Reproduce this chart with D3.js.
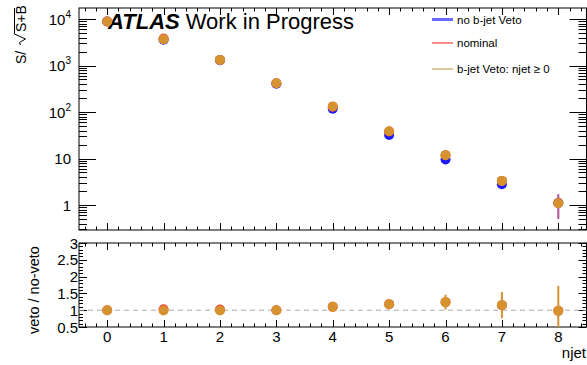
<!DOCTYPE html>
<html>
<head>
<meta charset="utf-8">
<script src="https://cdn.jsdelivr.net/npm/d3@7"></script>
<style>
  html, body { margin: 0; padding: 0; background: #fff; }
  svg { display: block; font-family: "Liberation Sans", Arial, Helvetica, sans-serif; }
</style>
</head>
<body>
<svg id="chart" width="587" height="365"></svg>
<script>
// njet bins
const njet = [0, 1, 2, 3, 4, 5, 6, 7, 8];

// S/sqrt(S+B) per njet bin
const noVeto     = [8850, 3600, 1300, 405, 117, 32, 9.5, 2.8, 1.1];
const noVetoErr  = [30, 20, 10, 5, 2, 1, 0.5, 0.3, 0.6];
const nominal    = [8850, 3800, 1320, 415, 130, 38, 11.8, 3.3, 1.1];
const nominalErr = [30, 20, 10, 5, 2, 1, 0.6, 0.4, 0.6];
const bjetVeto    = [8850, 3650, 1320, 415, 132, 38.4, 11.8, 3.3, 1.09];
const bjetVetoErr = [30, 20, 10, 5, 2, 1, 0.6, 0.6, 0.2];

// ratios to the no-veto selection
const ratioNominal  = [1.0, 1.03, 1.02, 1.0, 1.1, 1.18, 1.24, 1.15, 0.98];
const ratioVeto     = [1.0, 0.99, 0.99, 1.0, 1.1, 1.18, 1.24, 1.15, 0.98];
const ratioVetoErr  = [0, 0, 0, 0, 0.02, 0.04, 0.22, 0.39, 0.74];

const xTickLabels = ["0", "1", "2", "3", "4", "5", "6", "7", "8"];
const topTickExp  = [0, 1, 2, 3, 4];
const ratioTicks  = [0.5, 1, 1.5, 2, 2.5, 3];
const ratioTickLabels = ["0.5", "1", "1.5", "2", "2.5", "3"];

const legendNames = ["no b-jet Veto", "nominal", "b-jet Veto: njet \u2265 0"];

const colBlue = "#1a1aff", colRed = "#e8443a", colOrange = "#d6922f";

const svg = d3.select("#chart");
const L = 79, R = 586.5;
const topPad = { t: 8, b: 230 };
const lowPad = { t: 243, b: 327 };

const x = d3.scaleLinear().domain([-0.5, 8.5]).range([L, R]);
const yTop = d3.scaleLog()
  .domain([Math.pow(10, (205 - 230) / 46.5), Math.pow(10, (205 - 8) / 46.5)])
  .range([topPad.b, topPad.t]);
const yLow = d3.scaleLinear().domain([0.5, 3]).range([lowPad.b, lowPad.t]);

const tick = (g, x1, y1, x2, y2) =>
  g.append("line").attr("x1", x1).attr("y1", y1).attr("x2", x2).attr("y2", y2)
   .attr("stroke", "#000").attr("stroke-width", 1);

// ---------- frames ----------
function frame(p) {
  svg.append("rect").attr("x", L).attr("y", p.t).attr("width", R - L).attr("height", p.b - p.t)
    .attr("fill", "none").attr("stroke", "#000").attr("stroke-width", 1);
}
frame(topPad);
frame(lowPad);

// ---------- x ticks (both pads, top and bottom edges) ----------
const axG = svg.append("g");
const xMinor = d3.range(-4, 85).map(i => i / 10).filter(v => Math.abs(v * 5 - Math.round(v * 5)) < 1e-6 && v > -0.5 && v < 8.5);
[topPad, lowPad].forEach(p => {
  xMinor.forEach(v => {
    const isMajor = Math.abs(v - Math.round(v)) < 1e-6;
    const len = isMajor ? 7 : 3.5;
    const px = Math.round(x(v)) + 0.5;
    tick(axG, px, p.b, px, p.b - len);
    tick(axG, px, p.t, px, p.t + len);
  });
});

// ---------- log y ticks, top pad ----------
const [yLo, yHi] = yTop.domain();
for (let e = -1; e <= 4; e++) {
  for (let k = 1; k <= 9; k++) {
    const v = k * Math.pow(10, e);
    if (v < yLo || v > yHi) continue;
    const len = k === 1 ? 17 : 8;
    const py = Math.round(yTop(v)) + 0.5;
    tick(axG, L, py, L + len, py);
    tick(axG, R, py, R - len, py);
  }
}

// ---------- linear y ticks, ratio pad ----------
d3.range(5, 31).map(i => i / 10).forEach(v => {
  const isMajor = Math.abs(v * 2 - Math.round(v * 2)) < 1e-6;
  const len = isMajor ? 8 : 4;
  const py = Math.round(yLow(v)) + 0.5;
  tick(axG, L, py, L + len, py);
  tick(axG, R, py, R - len, py);
});

// ---------- tick labels ----------
const lab = svg.append("g").attr("fill", "#000");
topTickExp.forEach(e => {
  const py = yTop(Math.pow(10, e));
  if (e === 0) {
    lab.append("text").attr("x", 71).attr("y", py + 5.5).attr("text-anchor", "end")
      .attr("font-size", 15).text("1");
  } else if (e === 1) {
    lab.append("text").attr("x", 71).attr("y", py + 5.5).attr("text-anchor", "end")
      .attr("font-size", 15).text("10");
  } else {
    const t = lab.append("text").attr("x", 71).attr("y", py + 5.5).attr("text-anchor", "end")
      .attr("font-size", 15);
    t.append("tspan").text("10");
    t.append("tspan").attr("font-size", 10).attr("dy", -7).text(String(e));
  }
});
ratioTicks.forEach((v, i) => {
  lab.append("text").attr("x", 78).attr("y", yLow(v) + 5.5).attr("text-anchor", "end")
    .attr("font-size", 15).text(ratioTickLabels[i]);
});
njet.forEach((v, i) => {
  lab.append("text").attr("x", x(v)).attr("y", 342).attr("text-anchor", "middle")
    .attr("font-size", 15).text(xTickLabels[i]);
});

// ---------- axis titles ----------
svg.append("text").attr("x", 586).attr("y", 358).attr("text-anchor", "end")
  .attr("font-size", 15).text("njet");

svg.append("text").attr("transform", "translate(39,290) rotate(-90)")
  .attr("text-anchor", "middle").attr("font-size", 14.5).text("veto / no-veto");

const yt = svg.append("g").attr("transform", "translate(25.5,64) rotate(-90)");
yt.append("text").attr("x", 0).attr("y", 0).attr("font-size", 14).text("S/");
yt.append("path").attr("d", "M19,-5 L21.5,-6 L25,0 L30,-11 L56,-11")
  .attr("fill", "none").attr("stroke", "#000").attr("stroke-width", 1);
yt.append("text").attr("x", 32).attr("y", 0).attr("font-size", 14).text("S+B");

// ---------- ATLAS label ----------
const atl = svg.append("text").attr("x", 108).attr("y", 29).attr("font-size", 22);
atl.append("tspan").attr("font-weight", "bold").attr("font-style", "italic").text("ATLAS");
atl.append("tspan").attr("dx", 6).text("Work in Progress");

// ---------- legend ----------
const legCols = ["#6b6bff", "#ff8c8c", "#dcc79a"];
const legW = [3, 2, 2];
const legY = [19.5, 43, 69];
legendNames.forEach((n, i) => {
  svg.append("line").attr("x1", 432).attr("x2", 453).attr("y1", legY[i]).attr("y2", legY[i])
    .attr("stroke", legCols[i]).attr("stroke-width", legW[i]);
  svg.append("text").attr("x", 457).attr("y", legY[i] + 4).attr("font-size", 11.5).text(n);
});

// ---------- data, top pad ----------
const dataG = svg.append("g");
function series(g, vals, errs, yScale, color, errOpacity) {
  njet.forEach((n, i) => {
    const e = errs[i];
    if (e > 0) {
      const lo = Math.max(vals[i] - e, yScale.domain()[0]);
      const hi = Math.min(vals[i] + e, yScale.domain()[1]);
      g.append("line").attr("x1", x(n)).attr("x2", x(n))
        .attr("y1", yScale(lo)).attr("y2", yScale(hi))
        .attr("stroke", color).attr("stroke-width", 2).attr("stroke-opacity", errOpacity);
    }
  });
  g.selectAll(null).data(njet).enter().append("circle")
    .attr("cx", d => x(d)).attr("cy", (d, i) => yScale(vals[i])).attr("r", 5)
    .attr("fill", color);
}
series(dataG, noVeto, noVetoErr, yTop, colBlue, 0.55);
series(dataG, nominal, nominalErr, yTop, colRed, 0.55);
series(dataG, bjetVeto, bjetVetoErr, yTop, colOrange, 1);

// ---------- ratio pad ----------
svg.append("line").attr("x1", L).attr("x2", R).attr("y1", yLow(1)).attr("y2", yLow(1))
  .attr("stroke", "#aaa").attr("stroke-width", 1).attr("stroke-dasharray", "5,4");
const ratG = svg.append("g");
series(ratG, ratioNominal, njet.map(() => 0), yLow, colRed, 1);
series(ratG, ratioVeto, ratioVetoErr, yLow, colOrange, 1);
</script>
</body>
</html>
